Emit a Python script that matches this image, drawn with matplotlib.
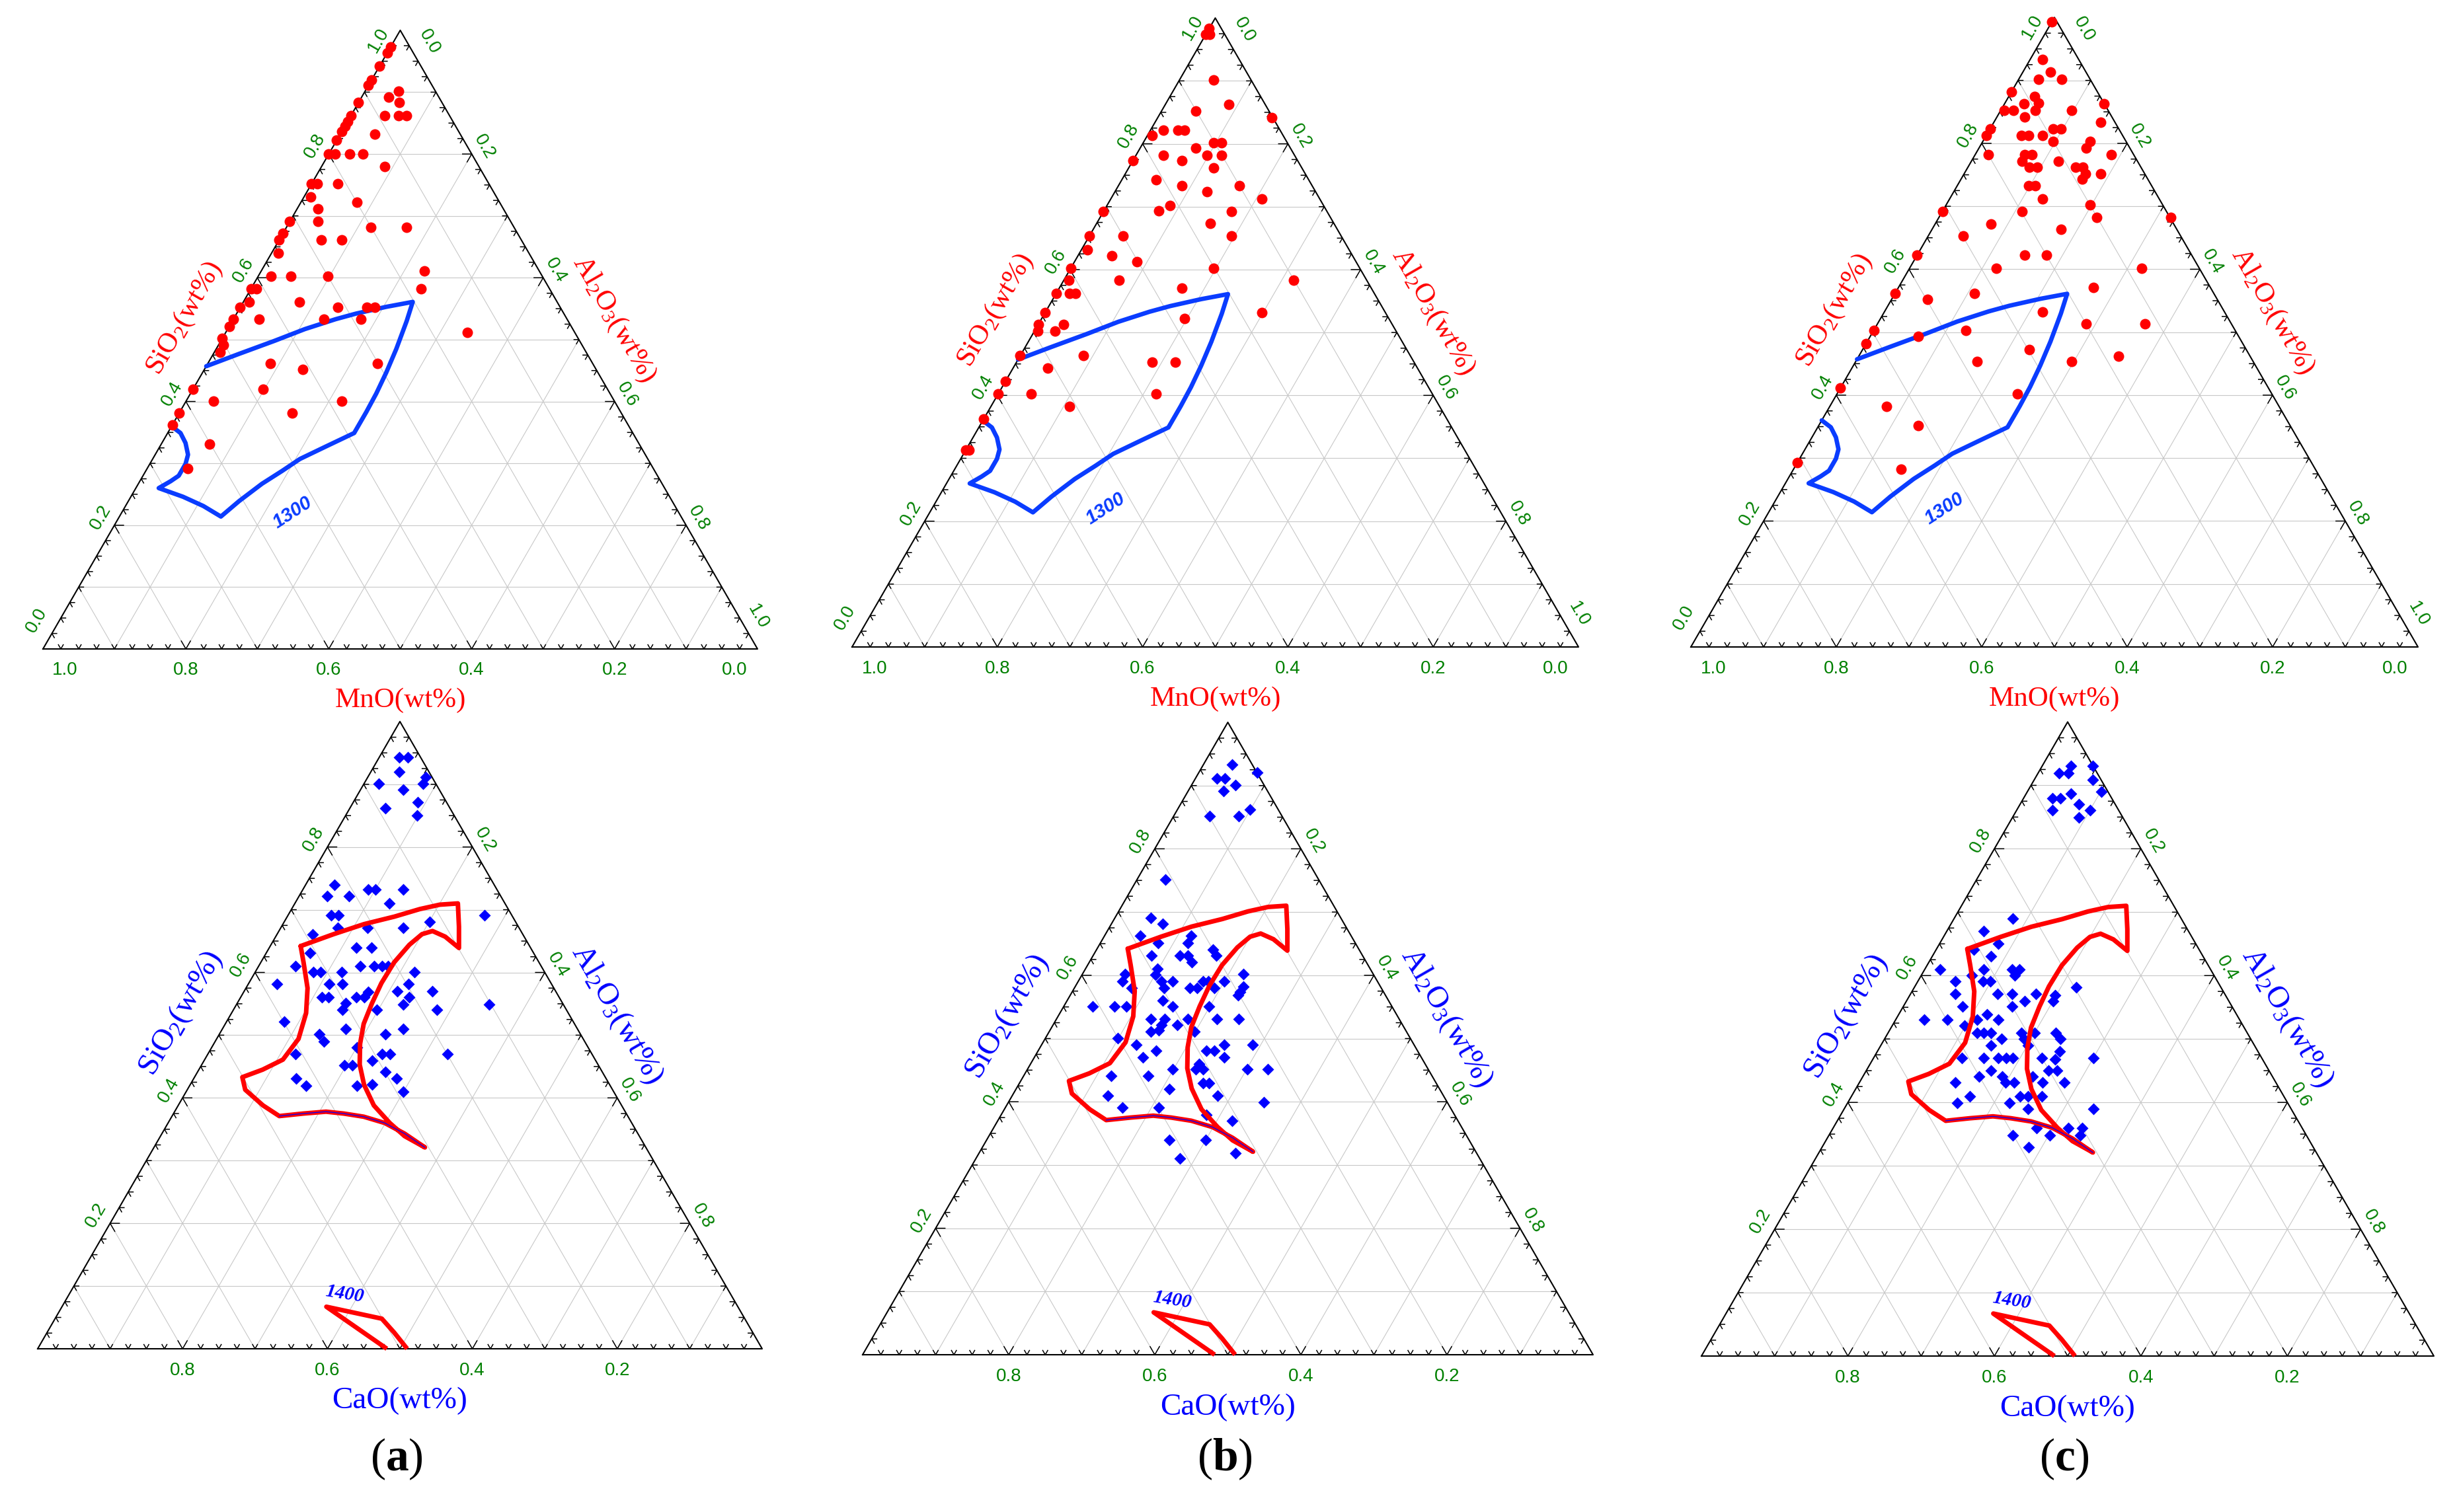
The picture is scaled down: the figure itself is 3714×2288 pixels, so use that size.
import numpy as np
import matplotlib
matplotlib.use("Agg")
import matplotlib.pyplot as plt
from matplotlib.collections import LineCollection

plt.rcParams['mathtext.fontset'] = 'custom'
plt.rcParams['mathtext.rm'] = 'Liberation Serif'
plt.rcParams['mathtext.it'] = 'Liberation Serif:italic'
plt.rcParams['mathtext.bf'] = 'Liberation Serif:bold'

# ---------------- data (SiO2 fraction, Al2O3 fraction); third component = 1 - both ----------
# top row: MnO-SiO2-Al2O3 (red circles)
top_a_sio2 = [0.973,0.964,0.942,0.920,0.911,0.902,0.892,0.883,0.883,0.862,0.862,0.862,0.862,0.852,0.845,0.836,0.832,0.822,0.800,0.800,0.800,0.800,0.780,0.752,0.752,0.752,0.731,0.722,0.711,0.691,0.691,0.682,0.682,0.672,0.661,0.661,0.661,0.640,0.602,0.602,0.602,0.611,0.582,0.582,0.582,0.561,0.561,0.552,0.552,0.552,0.552,0.533,0.533,0.533,0.533,0.521,0.512,0.502,0.491,0.480,0.461,0.452,0.461,0.420,0.420,0.401,0.401,0.381,0.381,0.362,0.331,0.292]
top_a_al2o3 = [0.0,0.0,0.0,0.0,0.0,0.047,0.038,0.057,0.0,0.047,0.067,0.078,0.0,0.0,0.0,0.0,0.048,0.0,0.0,0.009,0.029,0.048,0.088,0.0,0.008,0.037,0.009,0.078,0.029,0.039,0.0,0.118,0.168,0.0,0.0,0.059,0.088,0.009,0.018,0.046,0.098,0.228,0.238,0.0,0.008,0.008,0.078,0.0,0.137,0.177,0.188,0.0,0.036,0.127,0.178,0.0,0.338,0.0,0.007,0.008,0.088,0.138,0.238,0.0,0.098,0.038,0.218,0.0,0.158,0.0,0.068,0.057]

top_b_sio2 = [0.983,0.974,0.974,0.902,0.863,0.852,0.842,0.822,0.822,0.822,0.813,0.802,0.802,0.793,0.782,0.782,0.782,0.773,0.773,0.762,0.743,0.733,0.724,0.733,0.712,0.702,0.693,0.692,0.692,0.673,0.653,0.653,0.653,0.631,0.622,0.613,0.602,0.602,0.583,0.583,0.583,0.571,0.562,0.562,0.562,0.532,0.532,0.513,0.513,0.502,0.502,0.522,0.463,0.463,0.443,0.453,0.453,0.422,0.402,0.402,0.402,0.382,0.363,0.313,0.313]
top_b_al2o3 = [0.0,0.005,0.0,0.047,0.087,0.047,0.157,0.018,0.038,0.047,0.007,0.097,0.108,0.077,0.098,0.118,0.038,0.068,0.0,0.117,0.047,0.088,0.127,0.167,0.208,0.087,0.076,0.176,0.0,0.157,0.196,0.047,0.0,0.008,0.047,0.086,0.0,0.197,0.007,0.076,0.316,0.169,0.0,0.018,0.027,0.0,0.298,0.0,0.035,0.005,0.028,0.197,0.0,0.087,0.048,0.187,0.218,0.0,0.0,0.046,0.218,0.108,0.0,0.0,0.005]

top_c_sio2 = [0.993,0.933,0.913,0.902,0.902,0.882,0.874,0.863,0.864,0.863,0.852,0.852,0.852,0.852,0.842,0.833,0.823,0.823,0.823,0.813,0.813,0.813,0.813,0.803,0.803,0.793,0.782,0.782,0.782,0.782,0.772,0.772,0.762,0.762,0.762,0.762,0.752,0.752,0.743,0.733,0.733,0.712,0.702,0.692,0.692,0.682,0.682,0.672,0.663,0.653,0.622,0.622,0.622,0.602,0.602,0.571,0.562,0.562,0.552,0.532,0.513,0.513,0.503,0.503,0.493,0.482,0.462,0.453,0.453,0.472,0.411,0.402,0.382,0.352,0.293,0.282]
top_c_al2o3 = [0.0,0.017,0.038,0.027,0.059,0.0,0.036,0.027,0.046,0.137,0.005,0.018,0.048,0.098,0.038,0.147,0.0,0.087,0.098,0.0,0.048,0.058,0.077,0.097,0.148,0.147,0.018,0.068,0.078,0.187,0.069,0.119,0.148,0.158,0.084,0.095,0.167,0.188,0.167,0.098,0.107,0.128,0.198,0.0,0.109,0.217,0.319,0.077,0.178,0.048,0.0,0.148,0.178,0.119,0.319,0.268,0.0,0.109,0.049,0.218,0.287,0.368,0.0,0.127,0.066,0.0,0.357,0.167,0.297,0.229,0.0,0.248,0.078,0.137,0.0,0.148]

# bottom row: CaO-SiO2-Al2O3 (blue diamonds)
bot_a_sio2 = [0.943,0.943,0.920,0.911,0.901,0.901,0.891,0.862,0.871,0.850,0.740,0.732,0.732,0.732,0.722,0.722,0.710,0.691,0.691,0.691,0.681,0.671,0.671,0.671,0.661,0.640,0.640,0.631,0.610,0.610,0.610,0.610,0.610,0.601,0.601,0.601,0.601,0.582,0.582,0.582,0.570,0.582,0.570,0.561,0.561,0.561,0.561,0.569,0.561,0.549,0.551,0.549,0.540,0.540,0.540,0.521,0.510,0.510,0.502,0.490,0.502,0.480,0.470,0.470,0.470,0.470,0.459,0.452,0.452,0.431,0.441,0.431,0.419,0.419,0.421,0.410]
bot_a_al2o3 = [0.028,0.039,0.039,0.080,0.081,0.020,0.059,0.049,0.089,0.099,0.040,0.090,0.100,0.139,0.039,0.069,0.130,0.060,0.070,0.271,0.201,0.120,0.169,0.079,0.049,0.120,0.141,0.060,0.051,0.140,0.159,0.170,0.179,0.220,0.080,0.090,0.119,0.039,0.111,0.130,0.211,0.221,0.260,0.112,0.121,0.159,0.170,0.172,0.232,0.230,0.150,0.349,0.151,0.198,0.281,0.080,0.170,0.250,0.138,0.150,0.229,0.201,0.121,0.240,0.251,0.331,0.232,0.197,0.208,0.141,0.259,0.280,0.161,0.231,0.251,0.300]

bot_b_sio2 = [0.933,0.921,0.911,0.911,0.901,0.891,0.862,0.852,0.852,0.751,0.691,0.681,0.662,0.662,0.651,0.651,0.631,0.631,0.631,0.641,0.631,0.621,0.610,0.602,0.602,0.601,0.590,0.590,0.590,0.580,0.580,0.580,0.580,0.590,0.590,0.580,0.590,0.582,0.574,0.568,0.551,0.551,0.551,0.560,0.551,0.551,0.531,0.531,0.531,0.531,0.531,0.521,0.521,0.513,0.511,0.511,0.501,0.490,0.481,0.481,0.481,0.490,0.490,0.470,0.470,0.460,0.451,0.451,0.451,0.451,0.451,0.441,0.441,0.430,0.430,0.420,0.410,0.410,0.399,0.391,0.391,0.379,0.370,0.340,0.340,0.319,0.310]
bot_b_al2o3 = [0.039,0.080,0.030,0.040,0.060,0.049,0.099,0.049,0.089,0.039,0.049,0.070,0.049,0.119,0.079,0.120,0.080,0.119,0.130,0.159,0.169,0.140,0.099,0.058,0.220,0.100,0.061,0.114,0.129,0.078,0.123,0.158,0.168,0.171,0.178,0.191,0.200,0.230,0.230,0.230,0.039,0.069,0.086,0.131,0.149,0.199,0.129,0.148,0.180,0.220,0.249,0.170,0.149,0.149,0.139,0.199,0.099,0.130,0.161,0.230,0.241,0.250,0.289,0.149,0.260,0.231,0.231,0.241,0.199,0.301,0.329,0.120,0.170,0.251,0.259,0.210,0.281,0.131,0.350,0.160,0.210,0.281,0.321,0.250,0.300,0.351,0.279]

bot_c_sio2 = [0.931,0.931,0.919,0.919,0.909,0.890,0.887,0.880,0.880,0.870,0.861,0.861,0.849,0.690,0.670,0.650,0.641,0.630,0.610,0.610,0.600,0.610,0.610,0.600,0.591,0.591,0.591,0.581,0.571,0.571,0.571,0.571,0.560,0.569,0.560,0.551,0.551,0.530,0.530,0.530,0.539,0.530,0.521,0.510,0.510,0.510,0.510,0.510,0.510,0.500,0.500,0.500,0.490,0.490,0.480,0.470,0.470,0.470,0.470,0.470,0.470,0.470,0.468,0.450,0.450,0.441,0.441,0.441,0.450,0.431,0.431,0.431,0.431,0.431,0.410,0.399,0.410,0.410,0.410,0.399,0.390,0.390,0.360,0.360,0.360,0.348,0.348,0.348,0.329]
bot_c_al2o3 = [0.039,0.069,0.029,0.041,0.080,0.101,0.061,0.039,0.050,0.080,0.049,0.100,0.091,0.080,0.050,0.080,0.051,0.080,0.021,0.080,0.069,0.119,0.129,0.128,0.051,0.089,0.099,0.221,0.061,0.119,0.139,0.171,0.161,0.198,0.200,0.081,0.149,0.039,0.071,0.111,0.120,0.140,0.099,0.121,0.130,0.140,0.200,0.182,0.229,0.190,0.160,0.240,0.201,0.150,0.249,0.121,0.150,0.170,0.181,0.190,0.230,0.300,0.249,0.249,0.170,0.190,0.159,0.232,0.261,0.131,0.200,0.211,0.250,0.280,0.161,0.150,0.230,0.241,0.260,0.221,0.251,0.340,0.321,0.340,0.278,0.302,0.251,0.343,0.282]

# liquidus isotherms
iso1300_sio2 = [0.457,0.477,0.498,0.517,0.533,0.542,0.553,0.561,0.530,0.485,0.447,0.413,0.383,0.349,0.327,0.307,0.288,0.267,0.239,0.214,0.231,0.246,0.260,0.271,0.280,0.299,0.314,0.333,0.349,0.360]
iso1300_al2o3 = [0.0,0.036,0.075,0.108,0.143,0.167,0.204,0.237,0.244,0.252,0.257,0.260,0.261,0.261,0.232,0.206,0.191,0.173,0.155,0.142,0.109,0.073,0.032,0.043,0.050,0.050,0.046,0.033,0.018,0.0]

iso1400_sio2 = [0.642,0.661,0.677,0.689,0.701,0.708,0.710,0.673,0.639,0.657,0.666,0.661,0.644,0.616,0.583,0.551,0.518,0.486,0.453,0.421,0.388,0.360,0.339,0.321,0.343,0.360,0.370,0.375,0.378,0.375,0.371,0.388,0.413,0.433,0.445,0.461,0.494,0.535,0.575,0.616,0.642]
iso1400_al2o3 = [0.042,0.078,0.112,0.148,0.177,0.201,0.225,0.245,0.262,0.234,0.212,0.200,0.191,0.184,0.183,0.186,0.191,0.202,0.218,0.240,0.270,0.306,0.337,0.374,0.335,0.299,0.265,0.235,0.209,0.179,0.148,0.117,0.080,0.066,0.088,0.108,0.113,0.103,0.085,0.059,0.042]
iso1400_low_sio2 = [0.0,0.067,0.048,0.026,0.0]
iso1400_low_al2o3 = [0.482,0.365,0.451,0.479,0.510]

tick_values = [0.0, 0.2, 0.4, 0.6, 0.8, 1.0]

# ---------------- helpers ----------------
FIG_W, FIG_H = 3714, 2288
H3 = np.sqrt(3) / 2
RED = '#ff0000'
BLUE = '#0000ff'
CBLUE = '#0a3cff'
GREEN = '#008000'
GRID = '#c8c8c8'


def tern(s, a):
    s = np.asarray(s, float)
    a = np.asarray(a, float)
    return a + s / 2, s * H3


def make_ax(fig, blx, bly, W):
    ml, mr, mb, mt = 0.2, 0.2, 0.25, 0.15
    rect = [(blx - ml * W) / FIG_W, (FIG_H - bly - mb * W) / FIG_H,
            (1 + ml + mr) * W / FIG_W, (H3 + mb + mt) * W / FIG_H]
    ax = fig.add_axes(rect)
    ax.set_xlim(-ml, 1 + mr)
    ax.set_ylim(-mb, H3 + mt)
    ax.axis('off')
    return ax


def draw_frame(ax, full_labels, title_color, bottom_name, tsize):
    # grid
    segs = []
    for v in np.arange(1, 10) / 10:
        x, y = tern([v, v], [0, 1 - v]); segs.append(np.column_stack([x, y]))
        x, y = tern([0, 1 - v], [v, v]); segs.append(np.column_stack([x, y]))
        x, y = tern([0, 1 - v], [1 - v, 0]); segs.append(np.column_stack([x, y]))
    ax.add_collection(LineCollection(segs, colors=GRID, linewidths=0.8, zorder=1))
    # ticks (V shapes)
    tsegs = []
    ang = lambda d: np.array([np.cos(np.radians(d)), np.sin(np.radians(d))])
    for i in range(1, 40):
        t = i / 40
        L = 0.0135 if i % 8 == 0 else 0.0075
        for P, d1, d2 in [((t, 0.0), 60, 120),
                          ((t / 2, t * H3), 0, -60),
                          ((1 - t / 2, t * H3), 180, 240)]:
            P = np.array(P)
            tsegs.append(np.array([P + L * ang(d1), P, P + L * ang(d2)]))
    ax.add_collection(LineCollection(tsegs, colors='black', linewidths=1.1, zorder=3))
    # edges
    x, y = tern([0, 0, 1, 0], [0, 1, 0, 0])
    ax.plot(x, y, color='black', lw=1.5, zorder=3, clip_on=False)

    nL = np.array([-H3, 0.5]); eL = np.array([0.5, H3])
    nR = np.array([H3, 0.5]); eR = np.array([0.5, -H3])
    fk = dict(color=GREEN, fontsize=20, family='Liberation Sans', ha='center', va='center')
    for v in tick_values:
        if not full_labels and v in (0.0, 1.0):
            continue
        # bottom axis (left vertex component, 1 at left)
        bx = 1 - v
        if v == 1.0:
            bx += 0.031
        if v == 0.0:
            bx -= 0.032
        ax.text(bx, -0.03, f'{v:.1f}', **fk)
        # left axis: SiO2
        P = np.array([v / 2, v * H3])
        off = 0.022
        along = 0.0
        if v == 0.0:
            off, along = 0.028, 0.03
        if v == 1.0:
            off, along = 0.02, -0.027
        Q = P + off * nL + along * eL
        ax.text(Q[0], Q[1], f'{v:.1f}', rotation=60, rotation_mode='anchor', **fk)
        # right axis: Al2O3
        P = np.array([v + (1 - v) / 2, (1 - v) * H3])
        off = 0.02
        along = 0.0
        if v == 0.0:
            off, along = 0.027, 0.034
        if v == 1.0:
            off, along = 0.023, -0.039
        Q = P + off * nR + along * eR
        ax.text(Q[0], Q[1], f'{v:.1f}', rotation=-60, rotation_mode='anchor', **fk)

    tk = dict(color=title_color, fontsize=tsize, family='Liberation Serif', ha='center', va='center')
    ax.text(0.5, -0.072, bottom_name + '(wt%)', **tk)
    Q = np.array([0.25, H3 / 2]) + 0.06 * nL
    ax.text(Q[0], Q[1], r'SiO$_2$(wt%)', rotation=60, rotation_mode='anchor', **tk)
    Q = np.array([0.75, H3 / 2]) + 0.057 * nR
    ax.text(Q[0], Q[1], r'Al$_2$O$_3$(wt%)', rotation=-60, rotation_mode='anchor', **tk)


fig = plt.figure(figsize=(FIG_W / 100, FIG_H / 100), dpi=100)
fig.patch.set_facecolor('white')

top_layout = [(65, 982, 1081), (1289, 979, 1099), (2558, 979, 1100)]
bot_layout = [(57, 2041, 1096), (1305, 2050, 1105), (2574, 2052, 1108)]

top_data = [(top_a_sio2, top_a_al2o3), (top_b_sio2, top_b_al2o3), (top_c_sio2, top_c_al2o3)]
bot_data = [(bot_a_sio2, bot_a_al2o3), (bot_b_sio2, bot_b_al2o3), (bot_c_sio2, bot_c_al2o3)]

for (blx, bly, W), (s, a) in zip(top_layout, top_data):
    ax = make_ax(fig, blx, bly, W)
    draw_frame(ax, True, RED, 'MnO', 31)
    x, y = tern(iso1300_sio2, iso1300_al2o3)
    ax.plot(x, y, color=CBLUE, lw=4.8, zorder=4, solid_joinstyle='round', solid_capstyle='round')
    lx, ly = tern(0.22, 0.239)
    ax.text(lx, ly, '1300', color=CBLUE, fontsize=21, fontweight='bold', fontstyle='italic',
            family='Liberation Sans', rotation=33, ha='center', va='center')
    x, y = tern(s, a)
    ax.plot(x, y, 'o', color=RED, ms=11.5, mec='none', zorder=5, clip_on=False)

labels = ['a', 'b', 'c']
for (blx, bly, W), (s, a), lab in zip(bot_layout, bot_data, labels):
    ax = make_ax(fig, blx, bly, W)
    draw_frame(ax, False, BLUE, 'CaO', 34)
    x, y = tern(s, a)
    ax.plot(x, y, 'D', color=BLUE, ms=9, mec='none', zorder=4)
    x, y = tern(iso1400_sio2, iso1400_al2o3)
    ax.plot(x, y, color=RED, lw=5.0, zorder=5, solid_joinstyle='round', solid_capstyle='round')
    ax.plot(x[23:31], y[23:31], color=BLUE, lw=0.9, zorder=6)
    x, y = tern(iso1400_low_sio2, iso1400_low_al2o3)
    ax.plot(x, y, color=RED, lw=5.0, zorder=5, solid_joinstyle='round', solid_capstyle='butt')
    lx, ly = tern(0.087, 0.3804)
    ax.text(lx, ly, '1400', color=BLUE, fontsize=21, fontweight='bold', fontstyle='italic',
            family='Liberation Serif', rotation=-9, ha='center', va='center')
    cx = (blx + W / 2 - 5) / FIG_W
    fig.text(cx, 1 - 2208 / FIG_H, r'($\mathbf{' + lab + r'}$)', fontsize=50,
             family='Liberation Serif', ha='center', va='center', color='black')

fig.savefig('out.png', dpi=100, facecolor='white')
